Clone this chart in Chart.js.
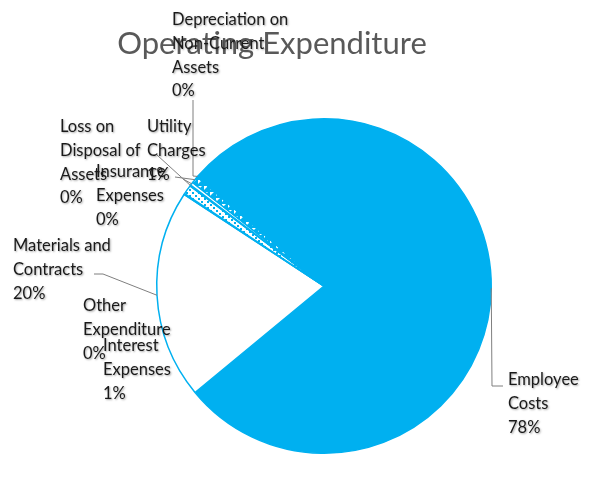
<!DOCTYPE html>
<html>
<head>
<meta charset="utf-8">
<script src="https://cdn.jsdelivr.net/npm/chart.js@4"></script>
<style>
  html, body { margin: 0; padding: 0; background: #fff; }
  #wrap { width: 596px; height: 494px; position: relative; }
</style>
</head>
<body>
<div id="wrap"><canvas id="opexChart" width="596" height="494"></canvas></div>
<script>
// -----------------------------------------------------------------------------
// Operating expenditure breakdown (share of total, %)
// -----------------------------------------------------------------------------
const categories = [
  "Employee Costs",
  "Materials and Contracts",
  "Other Expenditure",
  "Interest Expenses",
  "Loss on Disposal of Assets",
  "Insurance Expenses",
  "Utility Charges",
  "Depreciation on Non-Current Assets",
];
const shares = [77.6, 20.2, 0.1, 0.9, 0.1, 0.3, 0.7, 0.1];

// label text as wrapped in the chart
const labelLines = [
  ["Employee", "Costs"],
  ["Materials and", "Contracts"],
  ["Other", "Expenditure"],
  ["Interest", "Expenses"],
  ["Loss on", "Disposal of", "Assets"],
  ["Insurance", "Expenses"],
  ["Utility", "Charges"],
  ["Depreciation on", "Non-Current", "Assets"],
];

// label placement: left x, centre of first line, leader points (label side first)
const labelLayout = [
  { x: 508, y: 380, leader: [[503, 386], [492, 386]] },
  { x: 13, y: 246, leader: [[94, 274], [103, 274]] },
  { x: 83, y: 306, leader: null },
  { x: 103, y: 346, leader: null },
  { x: 60, y: 127, leader: [[157, 155]] },
  { x: 96, y: 172, leader: [[183, 179]] },
  { x: 147, y: 127, leader: [[175, 177]] },
  { x: 172, y: 20, leader: [[193, 100], [193, 176]] },
];

const BLUE = "#00B0F0";
const LINE_H = 23.6;

// small fill patterns for the thin slices
function makePattern(bg, draw) {
  const c = document.createElement("canvas");
  c.width = 6; c.height = 6;
  const g = c.getContext("2d");
  g.fillStyle = bg;
  g.fillRect(0, 0, 6, 6);
  g.fillStyle = BLUE;
  draw(g);
  return g.createPattern(c, "repeat");
}
const dots = makePattern("#fff", g => { g.fillRect(0, 0, 2, 2); g.fillRect(3, 3, 2, 2); });
const notches = makePattern(BLUE, g => {
  g.fillStyle = "#fff";
  g.beginPath(); g.moveTo(0, 0); g.lineTo(4, 0); g.lineTo(0, 4); g.closePath(); g.fill();
});

const fills = [BLUE, "#fff", "#fff", dots, "#fff", "#fff", notches, BLUE];

const labelsPlugin = {
  id: "opexLabels",
  afterDraw(chart) {
    const ctx = chart.ctx;
    const arcs = chart.getDatasetMeta(0).data;
    ctx.save();

    // title
    ctx.font = "31px Lato, 'Open Sans', sans-serif";
    ctx.fillStyle = "#595959";
    ctx.textAlign = "center";
    ctx.textBaseline = "middle";
    ctx.fillText("Operating Expenditure", 272, 44);

    // leader lines
    ctx.strokeStyle = "#7f7f7f";
    ctx.lineWidth = 1;
    labelLayout.forEach((lay, i) => {
      if (!lay.leader) return;
      const a = arcs[i];
      const mid = (a.startAngle + a.endAngle) / 2;
      const ex = a.x + Math.cos(mid) * a.outerRadius;
      const ey = a.y + Math.sin(mid) * a.outerRadius;
      ctx.beginPath();
      ctx.moveTo(lay.leader[0][0], lay.leader[0][1]);
      for (const p of lay.leader.slice(1)) ctx.lineTo(p[0], p[1]);
      ctx.lineTo(ex, ey);
      ctx.stroke();
    });

    // label text
    ctx.font = "16.5px Lato, 'Open Sans', sans-serif";
    ctx.textAlign = "left";
    ctx.fillStyle = "#1a1a1a";
    ctx.shadowColor = "rgba(0,0,0,0.35)";
    ctx.shadowBlur = 2;
    ctx.shadowOffsetX = 1;
    ctx.shadowOffsetY = 1;
    labelLayout.forEach((lay, i) => {
      const lines = labelLines[i].concat(Math.round(shares[i]) + "%");
      lines.forEach((t, k) => ctx.fillText(t, lay.x, lay.y + k * LINE_H));
    });
    ctx.restore();
  }
};

new Chart(document.getElementById("opexChart"), {
  type: "pie",
  data: {
    labels: categories,
    datasets: [{
      data: shares,
      backgroundColor: fills,
      borderColor: BLUE,
      borderWidth: 1.5,
    }]
  },
  options: {
    responsive: false,
    animation: false,
    rotation: 311.1,
    layout: { padding: { left: 156, right: 104, top: 118, bottom: 40 } },
    plugins: {
      legend: { display: false },
      tooltip: { enabled: false },
    }
  },
  plugins: [labelsPlugin]
});
</script>
</body>
</html>
